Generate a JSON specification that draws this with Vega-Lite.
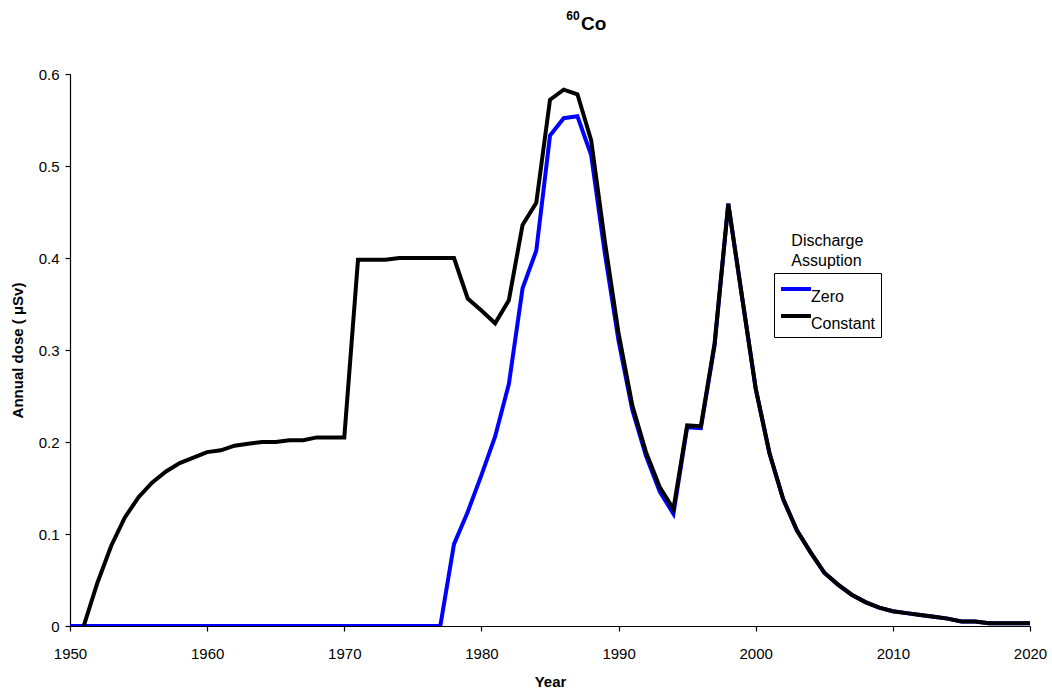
{
  "$schema": "https://vega.github.io/schema/vega-lite/v6.json",
  "autosize": "none",
  "width": 960,
  "height": 552,
  "padding": {"left": 70, "top": 74, "right": 22, "bottom": 73},
  "background": "white",
  "config": {
    "font": "Liberation Sans",
    "view": {"stroke": null},
    "axis": {
      "domainColor": "black",
      "domainWidth": 1.2,
      "tickColor": "black",
      "tickWidth": 1.2,
      "tickSize": 5,
      "labelColor": "black",
      "labelFont": "Liberation Sans",
      "labelFontSize": 15,
      "titleColor": "black",
      "titleFont": "Liberation Sans",
      "titleFontSize": 15,
      "titleFontWeight": "bold",
      "grid": false
    }
  },
  "data": {
    "values": [
      {"year": 1950, "Zero": 0, "Constant": null},
      {"year": 1951, "Zero": 0, "Constant": 0},
      {"year": 1952, "Zero": 0, "Constant": 0.047},
      {"year": 1953, "Zero": 0, "Constant": 0.087},
      {"year": 1954, "Zero": 0, "Constant": 0.118},
      {"year": 1955, "Zero": 0, "Constant": 0.140},
      {"year": 1956, "Zero": 0, "Constant": 0.156},
      {"year": 1957, "Zero": 0, "Constant": 0.168},
      {"year": 1958, "Zero": 0, "Constant": 0.177},
      {"year": 1959, "Zero": 0, "Constant": 0.183},
      {"year": 1960, "Zero": 0, "Constant": 0.189},
      {"year": 1961, "Zero": 0, "Constant": 0.191},
      {"year": 1962, "Zero": 0, "Constant": 0.196},
      {"year": 1963, "Zero": 0, "Constant": 0.198},
      {"year": 1964, "Zero": 0, "Constant": 0.200},
      {"year": 1965, "Zero": 0, "Constant": 0.200},
      {"year": 1966, "Zero": 0, "Constant": 0.202},
      {"year": 1967, "Zero": 0, "Constant": 0.202},
      {"year": 1968, "Zero": 0, "Constant": 0.205},
      {"year": 1969, "Zero": 0, "Constant": 0.205},
      {"year": 1970, "Zero": 0, "Constant": 0.205},
      {"year": 1971, "Zero": 0, "Constant": 0.398},
      {"year": 1972, "Zero": 0, "Constant": 0.398},
      {"year": 1973, "Zero": 0, "Constant": 0.398},
      {"year": 1974, "Zero": 0, "Constant": 0.400},
      {"year": 1975, "Zero": 0, "Constant": 0.400},
      {"year": 1976, "Zero": 0, "Constant": 0.400},
      {"year": 1977, "Zero": 0, "Constant": 0.400},
      {"year": 1978, "Zero": 0.089, "Constant": 0.400},
      {"year": 1979, "Zero": 0.124, "Constant": 0.356},
      {"year": 1980, "Zero": 0.164, "Constant": 0.343},
      {"year": 1981, "Zero": 0.206, "Constant": 0.329},
      {"year": 1982, "Zero": 0.263, "Constant": 0.354},
      {"year": 1983, "Zero": 0.367, "Constant": 0.436},
      {"year": 1984, "Zero": 0.408, "Constant": 0.460},
      {"year": 1985, "Zero": 0.533, "Constant": 0.572},
      {"year": 1986, "Zero": 0.552, "Constant": 0.583},
      {"year": 1987, "Zero": 0.554, "Constant": 0.578},
      {"year": 1988, "Zero": 0.512, "Constant": 0.528},
      {"year": 1989, "Zero": 0.405, "Constant": 0.418},
      {"year": 1990, "Zero": 0.310, "Constant": 0.318},
      {"year": 1991, "Zero": 0.235, "Constant": 0.240},
      {"year": 1992, "Zero": 0.185, "Constant": 0.189},
      {"year": 1993, "Zero": 0.146, "Constant": 0.151},
      {"year": 1994, "Zero": 0.122, "Constant": 0.127},
      {"year": 1995, "Zero": 0.216, "Constant": 0.218},
      {"year": 1996, "Zero": 0.215, "Constant": 0.217},
      {"year": 1997, "Zero": 0.305, "Constant": 0.307},
      {"year": 1998, "Zero": 0.459, "Constant": 0.459},
      {"year": 1999, "Zero": 0.358, "Constant": 0.358},
      {"year": 2000, "Zero": 0.258, "Constant": 0.258},
      {"year": 2001, "Zero": 0.188, "Constant": 0.188},
      {"year": 2002, "Zero": 0.138, "Constant": 0.138},
      {"year": 2003, "Zero": 0.104, "Constant": 0.104},
      {"year": 2004, "Zero": 0.080, "Constant": 0.080},
      {"year": 2005, "Zero": 0.058, "Constant": 0.058},
      {"year": 2006, "Zero": 0.045, "Constant": 0.045},
      {"year": 2007, "Zero": 0.034, "Constant": 0.034},
      {"year": 2008, "Zero": 0.026, "Constant": 0.026},
      {"year": 2009, "Zero": 0.020, "Constant": 0.020},
      {"year": 2010, "Zero": 0.016, "Constant": 0.016},
      {"year": 2011, "Zero": 0.014, "Constant": 0.014},
      {"year": 2012, "Zero": 0.012, "Constant": 0.012},
      {"year": 2013, "Zero": 0.010, "Constant": 0.010},
      {"year": 2014, "Zero": 0.008, "Constant": 0.008},
      {"year": 2015, "Zero": 0.005, "Constant": 0.005},
      {"year": 2016, "Zero": 0.005, "Constant": 0.005},
      {"year": 2017, "Zero": 0.003, "Constant": 0.003},
      {"year": 2018, "Zero": 0.003, "Constant": 0.003},
      {"year": 2019, "Zero": 0.003, "Constant": 0.003},
      {"year": 2020, "Zero": 0.003, "Constant": 0.003}
    ]
  },
  "layer": [
    {
      "transform": [
        {"fold": ["Zero", "Constant"], "as": ["series", "dose"]}
      ],
      "mark": {"type": "line", "strokeWidth": 4, "strokeJoin": "miter", "clip": true},
      "encoding": {
        "x": {
          "field": "year",
          "type": "quantitative",
          "scale": {"domain": [1950, 2020], "nice": false, "zero": false},
          "axis": {
            "title": "Year",
            "values": [1950, 1960, 1970, 1980, 1990, 2000, 2010, 2020],
            "format": "d",
            "labelPadding": 15,
            "titlePadding": 13,
            "labelFlush": false
          }
        },
        "y": {
          "field": "dose",
          "type": "quantitative",
          "scale": {"domain": [0, 0.6], "nice": false},
          "axis": {
            "title": "Annual dose ( μSv)",
            "values": [0, 0.1, 0.2, 0.3, 0.4, 0.5, 0.6],
            "format": ".1~f",
            "labelPadding": 6,
            "titlePadding": 13,
            "labelFlush": false
          }
        },
        "color": {
          "field": "series",
          "type": "nominal",
          "scale": {"domain": ["Zero", "Constant"], "range": ["#0000FF", "#000000"]},
          "legend": {
            "title": null,
            "orient": "none",
            "legendX": 704,
            "legendY": 199,
            "symbolType": "M-1,0H2.333",
            "symbolSize": 324,
            "symbolStrokeWidth": 4,
            "labelFont": "Liberation Sans",
            "labelFontSize": 16,
            "labelColor": "black",
            "labelBaseline": "top",
            "labelOffset": 10,
            "rowPadding": 0,
            "padding": 5,
            "strokeColor": "black",
            "fillColor": "white"
          }
        }
      }
    },
    {
      "data": {"values": [{}]},
      "mark": {
        "type": "text",
        "align": "left",
        "baseline": "alphabetic",
        "font": "Liberation Sans",
        "fontSize": 16,
        "fontWeight": "normal",
        "lineHeight": 20,
        "fill": "black"
      },
      "encoding": {
        "x": {"datum": 2002.6},
        "y": {"datum": 0.413},
        "text": {"value": ["Discharge", "Assuption"]}
      }
    },
    {
      "data": {"values": [{}]},
      "mark": {
        "type": "text",
        "align": "center",
        "baseline": "alphabetic",
        "font": "Liberation Sans",
        "fontSize": 12,
        "fontWeight": "bold",
        "fill": "black",
        "clip": false
      },
      "encoding": {
        "x": {"datum": 1986.68},
        "y": {"datum": 0.6587},
        "text": {"value": "60"}
      }
    },
    {
      "data": {"values": [{}]},
      "mark": {
        "type": "text",
        "align": "center",
        "baseline": "alphabetic",
        "font": "Liberation Sans",
        "fontSize": 19,
        "fontWeight": "bold",
        "fill": "black",
        "clip": false
      },
      "encoding": {
        "x": {"datum": 1988.18},
        "y": {"datum": 0.6478},
        "text": {"value": "Co"}
      }
    }
  ]
}
